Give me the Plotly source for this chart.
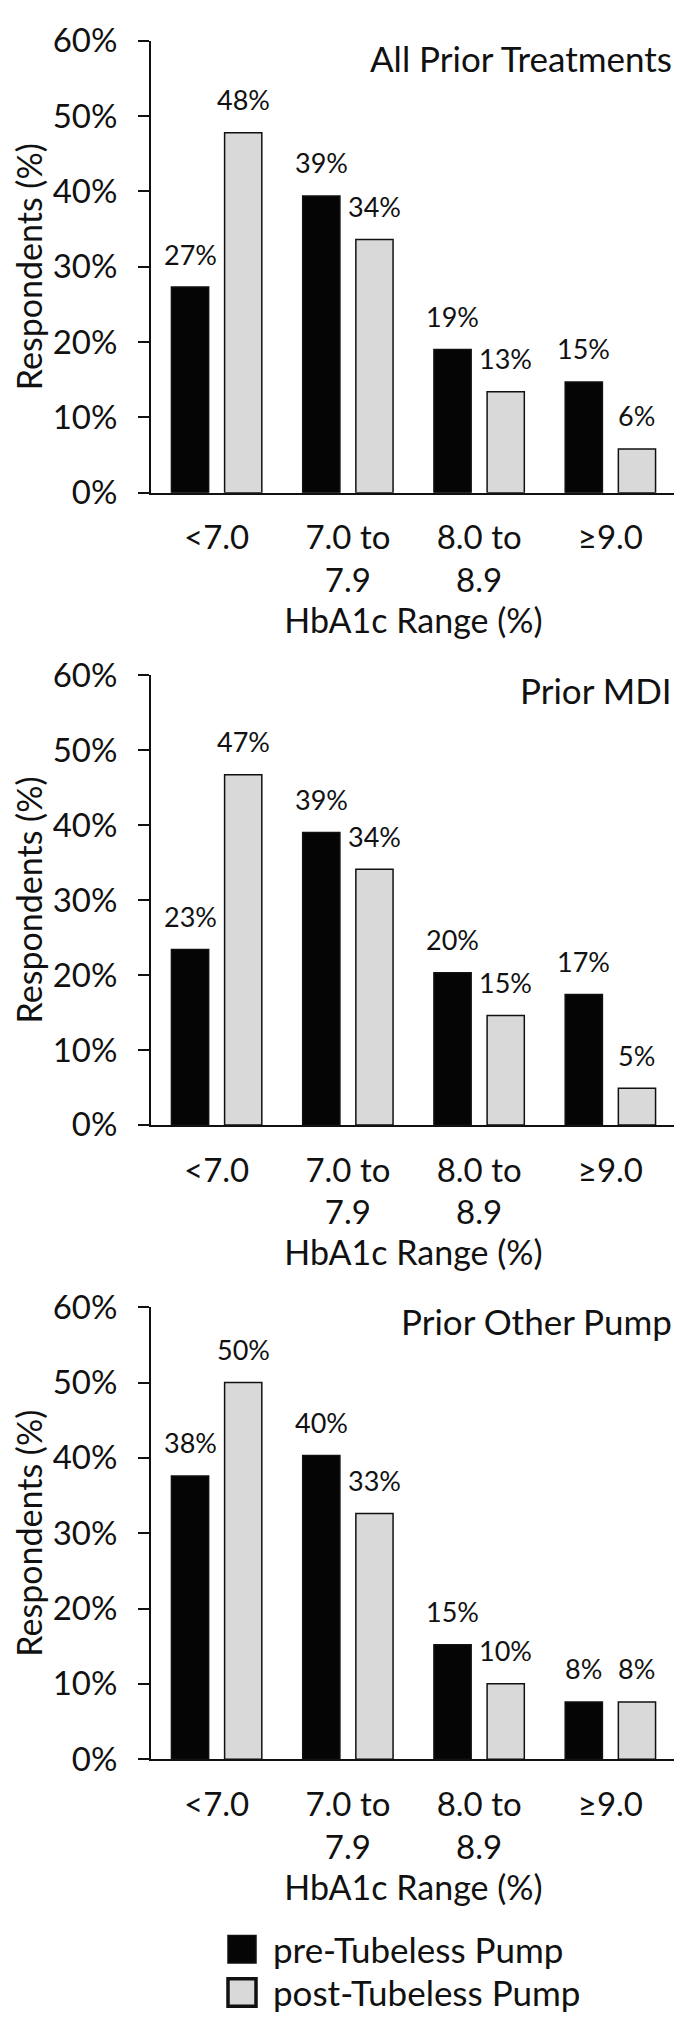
import plotly.graph_objects as go

# ---------------- data ----------------
categories = ["<7.0", "7.0 to<br>7.9", "8.0 to<br>8.9", "≥9.0"]
series_names = ["pre-Tubeless Pump", "post-Tubeless Pump"]
panel_titles = ["All Prior Treatments", "Prior MDI", "Prior Other Pump"]

pre_all = [27.3, 39.4, 19.0, 14.7]
post_all = [47.8, 33.6, 13.4, 5.8]

pre_mdi = [23.4, 39.0, 20.3, 17.4]
post_mdi = [46.7, 34.1, 14.6, 4.9]

pre_pump = [37.6, 40.3, 15.2, 7.6]
post_pump = [50.0, 32.6, 10.0, 7.6]

y_tick_values = [0, 10, 20, 30, 40, 50, 60]
y_tick_text = [f"{v}%" for v in y_tick_values]
x_title = "HbA1c Range (%)"
y_title = "Respondents (%)"

panels = [(pre_all, post_all), (pre_mdi, post_mdi), (pre_pump, post_pump)]

# ---------------- style ----------------
PAGE_OFF = 8                     # default body margin of the html page
W, H = 682 - PAGE_OFF, 2034 - PAGE_OFF
FONT = "Lato"
TEXT = "#111111"
PRE_COLOR = "#050505"
POST_COLOR = "#d9d9d9"
EDGE = "#111111"
BARGAP = 0.19
BARGROUPGAP = 0.30

plot_left, plot_right = 151, 676                   # page px
panel_px = [(20, 481), (667, 1126), (1312, 1773)]  # (top, bottom) page px
title_offsets = [18, 15, 14]


def py(px):
    return 1 - (px - PAGE_OFF) / H


def pxx(px):
    return (px - PAGE_OFF) / W


fig = go.Figure()
annotations = []
shapes = []

cat_w = (plot_right - plot_left) / len(categories)
slot = cat_w * (1 - BARGAP) / 2

layout_axes = {}
for i, (pre, post) in enumerate(panels):
    n = "" if i == 0 else str(i + 1)
    xa, ya = "x" + n, "y" + n
    for k, (vals, color) in enumerate([(pre, PRE_COLOR), (post, POST_COLOR)]):
        fig.add_trace(go.Bar(
            x=categories, y=vals, name=series_names[k],
            marker=dict(color=color, line=dict(color=EDGE, width=1.5)),
            xaxis=xa, yaxis=ya, showlegend=False, hoverinfo="skip",
        ))
        for c, v in zip(categories, vals):
            annotations.append(dict(
                x=c, y=v, xref=xa, yref=ya, text=f"{round(v)}%",
                showarrow=False, xanchor="center", yanchor="middle",
                xshift=(-1 if k == 0 else 1) * slot / 2, yshift=33,
                font=dict(family=FONT, size=27, color=TEXT),
            ))
    top, bot = panel_px[i]
    layout_axes["xaxis" + n] = dict(
        domain=[pxx(plot_left), pxx(plot_right)], anchor=ya,
        showline=True, linecolor=EDGE, linewidth=2, ticks="",
        showgrid=False, zeroline=False,
        tickfont=dict(family=FONT, size=33, color=TEXT),
        ticklabelstandoff=15,
        title=dict(text=x_title, font=dict(family=FONT, size=34, color=TEXT), standoff=10),
    )
    layout_axes["yaxis" + n] = dict(
        domain=[py(bot), py(top)], anchor=xa, range=[0, 60],
        tickvals=y_tick_values, ticktext=y_tick_text,
        showline=True, linecolor=EDGE, linewidth=2,
        ticks="outside", ticklen=11, tickwidth=2, tickcolor=EDGE,
        showgrid=False, zeroline=False,
        tickfont=dict(family=FONT, size=33, color=TEXT),
        ticklabelstandoff=14,
        title=dict(text=y_title, font=dict(family=FONT, size=34, color=TEXT), standoff=10),
    )
    annotations.append(dict(
        x=pxx(674), y=py(top + title_offsets[i]), xref="paper", yref="paper",
        text=panel_titles[i], showarrow=False, xanchor="right", yanchor="middle",
        font=dict(family=FONT, size=35, color=TEXT),
    ))

# legend drawn with large swatches, as in the original
legend_rows = [1967, 2011]
for k, (name, color, lw) in enumerate(zip(series_names, [PRE_COLOR, POST_COLOR], [1.5, 3.5])):
    cy = legend_rows[k]
    shapes.append(dict(
        type="rect", xref="paper", yref="paper",
        x0=pxx(228), x1=pxx(256), y0=py(cy + 14), y1=py(cy - 14),
        fillcolor=color, line=dict(color=EDGE, width=lw),
    ))
    annotations.append(dict(
        x=pxx(271), y=py(cy), xref="paper", yref="paper", text=name,
        showarrow=False, xanchor="left", yanchor="middle",
        font=dict(family=FONT, size=35, color=TEXT),
    ))

fig.update_layout(
    width=W, height=H,
    margin=dict(l=0, r=0, t=0, b=0),
    paper_bgcolor="white", plot_bgcolor="white",
    barmode="group", bargap=BARGAP, bargroupgap=BARGROUPGAP,
    font=dict(family=FONT, color=TEXT),
    annotations=annotations, shapes=shapes,
    showlegend=False,
    **layout_axes,
)

fig.write_html("out.html")
